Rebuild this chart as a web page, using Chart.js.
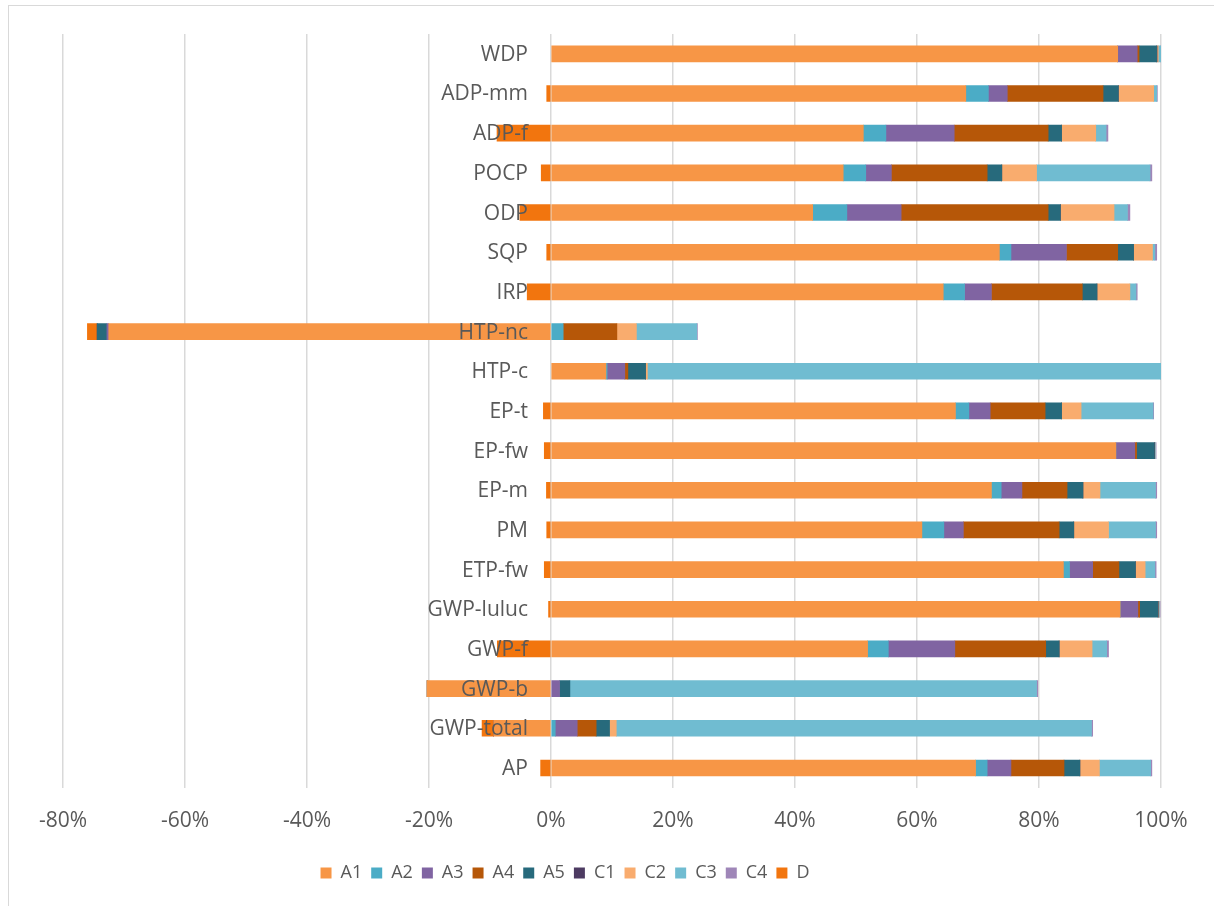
<!DOCTYPE html>
<html>
<head>
<meta charset="utf-8">
<script src="https://cdn.jsdelivr.net/npm/chart.js@4"></script>
<style>
  html, body { margin: 0; padding: 0; background: #fff; }
  #wrap { position: absolute; left: 0; top: 0; width: 1214px; height: 906px; }
  #frame { position: absolute; left: 8px; top: 5px; width: 1300px; height: 1000px; border: 1px solid #d9d9d9; }
</style>
</head>
<body>
<div id="frame"></div>
<div id="wrap"><canvas id="bars"></canvas></div>
<script>
const categories = ["WDP", "ADP-mm", "ADP-f", "POCP", "ODP", "SQP", "IRP", "HTP-nc", "HTP-c", "EP-t",
  "EP-fw", "EP-m", "PM", "ETP-fw", "GWP-luluc", "GWP-f", "GWP-b", "GWP-total", "AP"];

// shares in %
const A1 = [92.9, 68.0, 51.2, 47.9, 42.9, 73.5, 64.3, -72.5, 9.0, 66.3, 92.6, 72.2, 60.8, 84.0, 93.3, 51.9, -20.3, -9.4, 69.6];
const A2 = [0, 3.7, 3.7, 3.7, 5.6, 1.9, 3.5, 2.0, 0.2, 2.2, 0, 1.6, 3.6, 1.0, 0, 3.4, 0, 0.7, 1.9];
const A3 = [3.2, 3.1, 11.2, 4.2, 8.9, 9.1, 4.4, -0.3, 2.9, 3.5, 3.1, 3.4, 3.2, 3.8, 2.9, 10.9, 1.4, 3.6, 3.9];
const A4 = [0.3, 15.7, 15.4, 15.7, 24.1, 8.4, 14.9, 8.8, 0.5, 9.0, 0.3, 7.4, 15.7, 4.3, 0.3, 14.9, 0, 3.1, 8.7];
const A5 = [2.9, 2.5, 2.2, 2.4, 2.0, 2.6, 2.4, -1.6, 2.9, 2.7, 2.9, 2.6, 2.4, 2.7, 3.0, 2.2, 1.7, 2.2, 2.6];
const C1 = [0.05, 0, 0, 0, 0, 0, 0, 0, 0, 0, 0.05, 0, 0, 0, 0.05, 0, 0, 0, 0];
const C2 = [0.2, 5.8, 5.6, 5.7, 8.8, 3.1, 5.4, 3.2, 0.3, 3.2, 0.05, 2.8, 5.7, 1.6, 0.1, 5.4, 0, 1.1, 3.2];
const C3 = [0.4, 0.5, 1.7, 18.6, 2.2, 0.4, 1.0, 9.9, 84.2, 11.8, 0.1, 9.1, 7.7, 1.6, 0.1, 2.4, 76.5, 77.9, 8.4];
const C4 = [0.1, 0.1, 0.3, 0.3, 0.4, 0.3, 0.2, 0.1, 0, 0.1, 0.1, 0.2, 0.2, 0.2, 0.1, 0.3, 0.2, 0.2, 0.2];
const D = [0, -0.7, -8.85, -1.6, -5.1, -0.7, -3.9, -1.6, 0, -1.25, -1.1, -0.75, -0.7, -1.1, -0.4, -8.8, 0, -1.9, -1.7];

const xTicks = [-80, -60, -40, -20, 0, 20, 40, 60, 80, 100];

const seriesNames = ["A1", "A2", "A3", "A4", "A5", "C1", "C2", "C3", "C4", "D"];
const seriesData = [A1, A2, A3, A4, A5, C1, C2, C3, C4, D];
const colors = ['#F79646', '#4BACC6', '#8064A2', '#B65708', '#276A7C',
  '#4D3B62', '#F9AC6E', '#70BCD1', '#9F86B8', '#F2750E'];

// category names sit next to the 0% line, drawn over the bars
const catLabels = {
  id: 'catLabels',
  afterDatasetsDraw(chart) {
    const ctx = chart.ctx;
    const x0 = chart.scales.x.getPixelForValue(0);
    const y = chart.scales.y;
    ctx.save();
    ctx.font = '21px "Open Sans"';
    ctx.fillStyle = '#595959';
    ctx.textAlign = 'right';
    ctx.textBaseline = 'middle';
    categories.forEach((c, i) => {
      ctx.fillText(c, x0 - 23, y.getPixelForValue(i) + 1);
    });
    ctx.restore();
  }
};

// the legend in the original sits a bit left of centre
const legendShift = {
  id: 'legendShift',
  beforeDraw(chart) {
    chart.legend.left -= 47;
    chart.legend.right -= 47;
  }
};

const chart = new Chart(document.getElementById("bars"), {
  type: "bar",
  data: {
    labels: categories,
    datasets: seriesNames.map((n, i) => ({
      label: n,
      data: seriesData[i],
      backgroundColor: colors[i],
      borderWidth: 0,
      barThickness: 16
    }))
  },
  plugins: [catLabels, legendShift],
  options: {
    indexAxis: 'y',
    responsive: true,
    maintainAspectRatio: false,
    animation: false,
    layout: { padding: { left: 63, right: 53, top: 34, bottom: 14 } },
    scales: {
      x: {
        stacked: true,
        min: -80,
        max: 100,
        afterBuildTicks(scale) { scale.ticks = xTicks.map(v => ({ value: v })); },
        grid: { color: '#d9d9d9', lineWidth: 1.5, drawTicks: false },
        border: { display: false },
        ticks: {
          padding: 21,
          color: '#595959',
          font: { family: 'Open Sans', size: 21 },
          callback: v => v + '%'
        }
      },
      y: {
        stacked: true,
        display: false
      }
    },
    plugins: {
      legend: {
        position: 'bottom',
        labels: {
          boxWidth: 11,
          boxHeight: 11,
          padding: 9,
          color: '#595959',
          font: { family: 'Open Sans', size: 18 }
        }
      },
      tooltip: { enabled: false }
    }
  }
});
</script>
</body>
</html>
